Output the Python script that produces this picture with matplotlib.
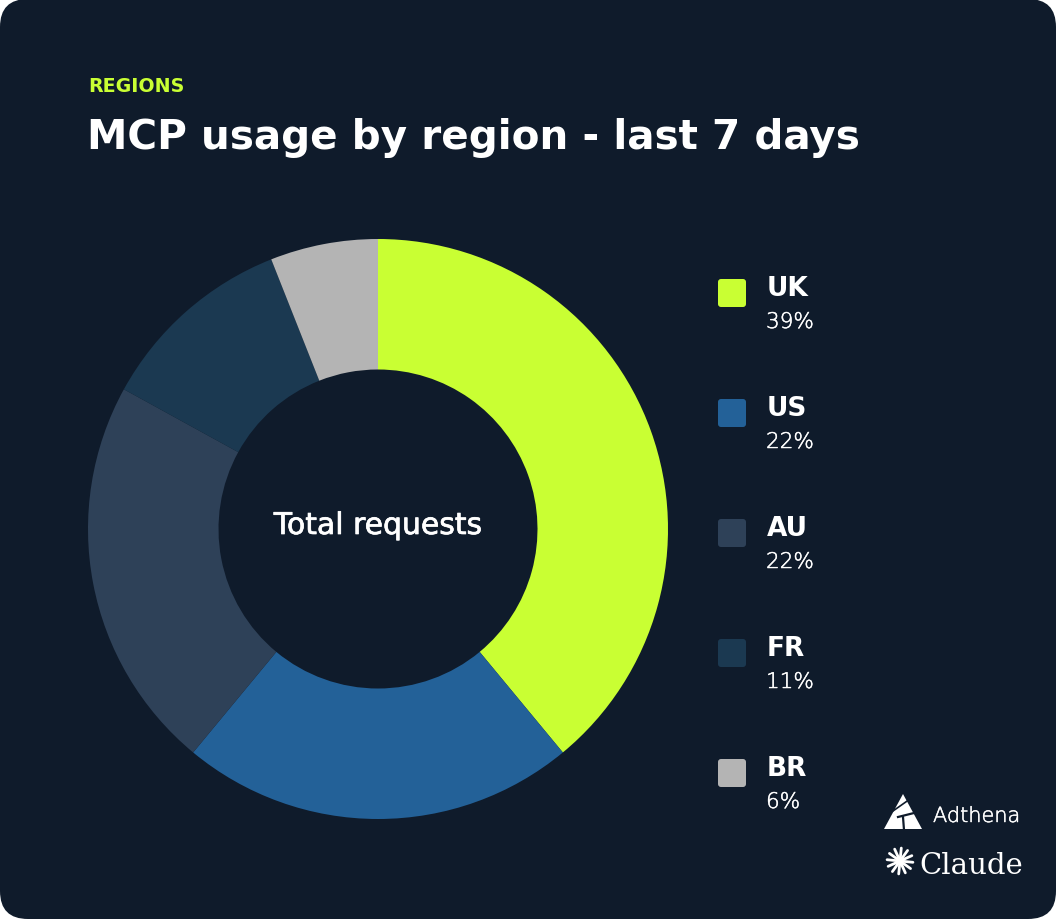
import matplotlib
matplotlib.use("Agg")
import matplotlib.pyplot as plt
import matplotlib.patheffects as pe
from matplotlib.patches import FancyBboxPatch, Polygon
import numpy as np

categories = ["UK", "US", "AU", "FR", "BR"]
values = [39, 22, 22, 11, 6]
colors = ["#C9FF33", "#236198", "#2E4158", "#1B3951", "#B4B4B4"]
kicker = "REGIONS"
title = "MCP usage by region - last 7 days"
center_label = "Total requests"

BG = "#0F1B2B"
W, H = 1056, 920
FONT = "DejaVu Sans"
thicken = [pe.withStroke(linewidth=0.35, foreground="white")]

fig = plt.figure(figsize=(W / 100, H / 100), dpi=100)
fig.patch.set_facecolor("white")

bg = fig.add_axes([0, 0, 1, 1])
bg.set_xlim(0, W)
bg.set_ylim(H, 0)
bg.axis("off")
bg.add_patch(FancyBboxPatch((0, 0), W, H, boxstyle="round,pad=0,rounding_size=28",
                            facecolor=BG, edgecolor="none"))

bg.text(88, 92, kicker, color="#C9FF33", fontsize=13.7, fontweight="bold",
        family=FONT, va="baseline", ha="left")
bg.text(87, 149, title, color="white", fontsize=29.2, fontweight="bold",
        family=FONT, va="baseline", ha="left")

cx, cy, r = 378, 530, 290
pax = fig.add_axes([(cx - r) / W, (H - cy - r) / H, 2 * r / W, 2 * r / H])
pax.pie(values, colors=colors, startangle=90, counterclock=False,
        wedgeprops=dict(width=0.45, edgecolor="none"))
pax.set_xlim(-1, 1)
pax.set_ylim(-1, 1)
pax.set_facecolor("none")
bg.text(cx, 535, center_label, color="white", fontsize=21.5, fontweight="normal",
        family=FONT, ha="center", va="baseline", zorder=10,
        path_effects=[pe.withStroke(linewidth=0.5, foreground="white")])

for i, (cat, v, c) in enumerate(zip(categories, values, colors)):
    yb = 296 + 120 * i
    bg.add_patch(FancyBboxPatch((718, yb - 16), 28, 28,
                                boxstyle="round,pad=0,rounding_size=3",
                                facecolor=c, edgecolor="none"))
    bg.text(767, yb, cat, color="white", fontsize=19, fontweight="bold",
            family=FONT, va="baseline", ha="left")
    bg.text(766, yb + 33, f"{v}%", color="white", fontsize=15.5, fontweight="light",
            family=FONT, va="baseline", ha="left", path_effects=thicken)

# Adthena logo (approximation)
tri = Polygon([[903, 795], [884, 830], [922, 830]], closed=True,
              facecolor="white", edgecolor="none")
bg.add_patch(tri)
bg.plot([898, 922], [818, 812], color=BG, lw=1.6)
bg.plot([903, 904], [818, 831], color=BG, lw=1.6)
bg.plot([893, 910], [812, 800], color=BG, lw=1.2)
bg.text(933, 823, "Adthena", color="white", fontsize=15, fontweight="light",
        family=FONT, va="baseline", ha="left", path_effects=thicken)

# Claude logo (approximation)
sx, sy = 900, 862
for ang in np.linspace(0, np.pi, 7)[:-1] + 0.1:
    dx, dy = 13 * np.cos(ang), 13 * np.sin(ang)
    bg.plot([sx - dx, sx + dx], [sy - dy, sy + dy], color="white", lw=2.0,
            solid_capstyle="round")
bg.add_patch(plt.Circle((sx, sy), 3, color=BG))
bg.text(919, 874, "Claude", color="white", fontsize=21, family="DejaVu Serif",
        va="baseline", ha="left")

fig.savefig("out.png", dpi=100, facecolor=fig.get_facecolor())
